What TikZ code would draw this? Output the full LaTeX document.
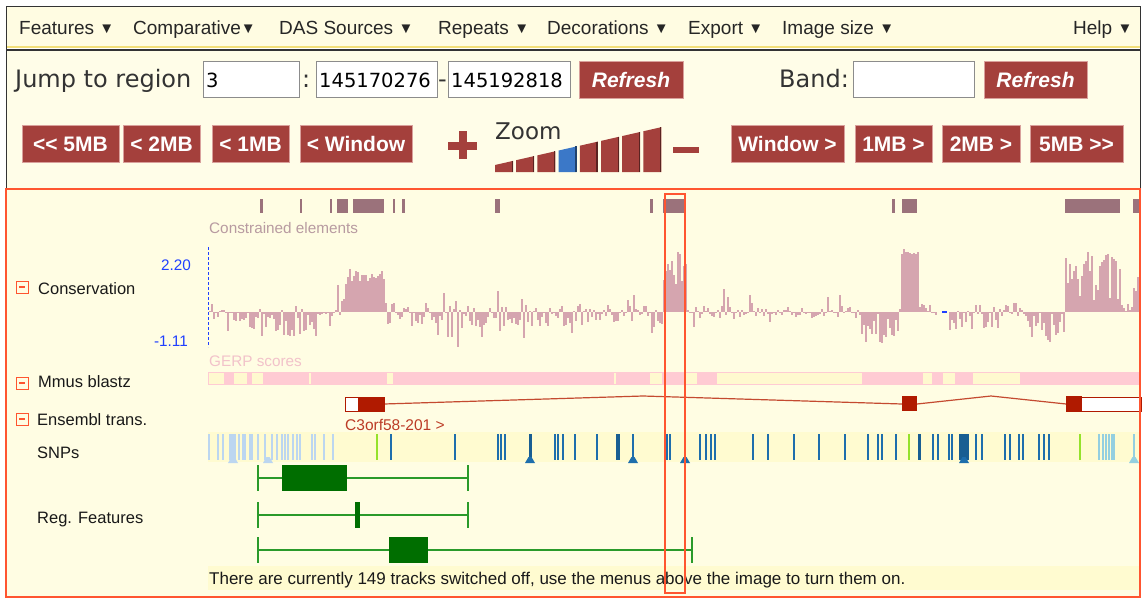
\documentclass[tikz,border=0pt]{standalone}
\usepackage{fontspec}
\setmainfont{Liberation Sans}
\newfontfamily\djv{DejaVu Sans}
\usetikzlibrary{calc}
\newcommand\fsz[1]{\fontsize{#1}{#1}\selectfont}
\newcommand\dn{\raisebox{1.5pt}{\fsz{15}▼}}
\definecolor{menubg}{HTML}{FFFCE2}
\definecolor{menuln}{HTML}{F3DF78}
\definecolor{ctrlbg}{HTML}{FFFDE8}
\definecolor{trackbg}{HTML}{FFFDE3}
\definecolor{bandbg}{HTML}{FFFBD0}
\definecolor{btnred}{HTML}{A4403C}
\definecolor{btnhi}{HTML}{D9A09C}
\definecolor{frame}{HTML}{FF5530}
\definecolor{conel}{HTML}{9B727B}
\definecolor{conbar}{HTML}{D5A5AF}
\definecolor{conlab}{HTML}{B89BA1}
\definecolor{gerp}{HTML}{F2C2CA}
\definecolor{blastz}{HTML}{FFCBD3}
\definecolor{gap}{HTML}{FFF9CF}
\definecolor{trans}{HTML}{B01A00}
\definecolor{transln}{HTML}{C44A30}
\definecolor{snplt}{HTML}{BCD6F0}
\definecolor{snpdk}{HTML}{1E6EAC}
\definecolor{snpgr}{HTML}{95E22A}
\definecolor{snptl}{HTML}{94CFE0}
\definecolor{regbox}{HTML}{006E00}
\definecolor{regln}{HTML}{2A9A2A}
\definecolor{zblue}{HTML}{3B78C8}
\definecolor{axis}{HTML}{2040FF}
\tikzset{
  txt/.style={anchor=base west,inner sep=0pt},
  menu/.style={txt,text=black!85,font=\fsz{19}},
  btn/.style={fill=btnred,draw=btnhi,line width=1pt,text=white,inner sep=0pt,minimum height=37pt,font=\fsz{21}\bfseries},
  rbtn/.style={btn,font=\fsz{21}\bfseries\itshape},
  inbox/.style={fill=white,draw=black!45,line width=1pt},
  big/.style={txt,text=black!80,font=\djv\fsz{24}},
  num/.style={txt,font=\djv\fsz{19.5}},
  lab/.style={txt,text=black!90,font=\fsz{16.5}},
  small/.style={txt,font=\fsz{15.3}},
  mbox/.style={draw=frame,line width=1pt},
  snp/.style={line width=1.3pt},
}

\begin{document}
\begin{tikzpicture}[x=1pt,y=-1pt]
\useasboundingbox (0,0) rectangle (1143,602);
\fill[white] (0,0) rectangle (1143,602);
% menu bar and control panel
\fill[menubg] (6,7) rectangle (1140,48); \draw[menuln,line width=2pt] (6,47)--(1140,47);
\fill[ctrlbg] (6,50) rectangle (1140,189);
\draw[black!80,line width=1.5pt] (6,50)--(1140,50);
\draw[black!80,line width=1pt] (6,189)--(6,7)--(1140,7)--(1140,189);
\node[menu] (mfeat) at (19,35) {Features \dn}; \node[menu] (mcomp) at (133,35) {Comparative\dn};
\node[menu] (mdas) at (279,35) {DAS Sources \dn}; \node[menu] (mrep) at (438,35) {Repeats \dn};
\node[menu] (mdec) at (547,35) {Decorations \dn}; \node[menu] (mexp) at (688,35) {Export \dn};
\node[menu] (mimg) at (782,35) {Image size \dn}; \node[menu] (mhelp) at (1073,35) {Help \dn};
\node[big] (jump) at (15,88) {Jump to region};
\draw[inbox] (203,62) rectangle (299,97); \node[num] (chr) at (206,87) {3};
\node[big] (colon) at (302,88) {:};
\draw[inbox] (316,62) rectangle (437,97); \node[num] (start) at (319,87) {145170276};
\node[big] (dash) at (438,88) {-};
\draw[inbox] (448,62) rectangle (570,97); \node[num] (stop) at (451,87) {145192818};
\node[rbtn,minimum width=104pt] (ref1) at (631,80) {Refresh};
\node[big] (band) at (779,88) {Band:};
\draw[inbox] (853,62) rectangle (974,97);
\node[rbtn,minimum width=103pt] (ref2) at (1035.5,80) {Refresh};
\node[btn,minimum width=97pt] (l5) at (70.5,144) {<{}< 5MB}; \node[btn,minimum width=77pt] (l2) at (161.5,144) {< 2MB};
\node[btn,minimum width=77pt] (l1) at (250.5,144) {< 1MB}; \node[btn,minimum width=112pt] (lw) at (356,144) {< Window};
\node[btn,minimum width=113pt] (rw) at (787.5,144) {Window >}; \node[btn,minimum width=77pt] (r1) at (893.5,144) {1MB >};
\node[btn,minimum width=78pt] (r2) at (981,144) {2MB >}; \node[btn,minimum width=93pt] (r5) at (1076.5,144) {5MB >{}>};
% zoom scale
\fill[btnred] (448,141.5) rectangle (477,149.5); \fill[btnred] (458.5,131) rectangle (466.5,159);
\fill[btnred] (673,147) rectangle (699,153);
\node[big,font=\djv\fsz{23}] (zoom) at (495,139) {Zoom};
\foreach \i in {0,...,7}{
  \pgfmathsetmacro\xa{495+21.2*\i} \pgfmathsetmacro\xb{\xa+18}
  \pgfmathsetmacro\ya{165-0.2275*(\xa-495)} \pgfmathsetmacro\yb{165-0.2275*(\xb-495)}
  \ifnum\i=3 \def\zc{zblue}\else\def\zc{btnred}\fi
  \fill[\zc] (\xa,172)--(\xa,\ya)--(\xb,\yb)--(\xb,172)--cycle;
  \draw[black!45!\zc,line width=1.5pt] (\xb-0.75,\yb)--(\xb-0.75,172);
}
% track panel
\fill[trackbg] (6,189) rectangle (1140,597);
\foreach \a/\b in {260/263,300/302,330/332,337/348,353/384,393/395,402/405,495/500,650/653,663/685,892/895,902/917,1065/1120,1133/1140}
  \fill[conel] (\a,199) rectangle (\b,213);
\node[small,text=conlab] (cel) at (209,233.5) {Constrained elements};
\pgfmathsetseed{11}
\foreach \a/\b/\lo/\hi/\sp in {209/243/-10/6/20,245/331/-24/6/20,333/343/-4/14/20,345/351/20/45/0,353/383/30/42/0,
  385/429/-12/10/30,431/479/-25/6/25,481/500/-20/8/30,501/649/-14/8/20,651/661/-22/4/10,663/685/25/60/0,
  687/859/-6/6/20,861/899/-32/0/10,901/917/56/64/0,919/935/-4/8/15,949/999/-22/8/20,1001/1025/-4/10/10,
  1027/1063/-30/0/10,1065/1119/8/60/0,1121/1131/0/12/10,1133/1139/10/40/0}{
  \pgfmathtruncatemacro\c{\a+2}
  \foreach \x in {\a,\c,...,\b}{
    \pgfmathsetmacro\h{\lo+(\hi-\lo)*rnd+(rnd<0.12)*\sp*(2*rnd-0.8)}
    \fill[conbar] (\x,312) rectangle ++(2,-\h);
  }
}
\draw[axis,line width=1pt,dash pattern=on 3pt off 2pt] (208.5,247)--(208.5,347);
\draw[axis,line width=1.2pt] (942,312)--(947,312) (1139,312)--(1140,312);
\node[small,anchor=base east,text=axis] (cmax) at (191,270.5) {2.20};
\node[small,anchor=base east,text=axis] (cmin) at (188,346.5) {-1.11};
\node[small,text=gerp] (gerp) at (209,366.5) {GERP scores};
\fill[blastz] (208,372) rectangle (1140,385);
\foreach \a/\b in {209/224,234/247,252/263,309/311,387/393,614/616,650/662,686/697,717/862,923/932,943/955,973/1020}
  \fill[gap] (\a,373) rectangle (\b,384);
% transcript
\draw[transln,line width=1.2pt] (384,404)--(643,396)--(902,404) (917,404)--(991,396)--(1066,404);
\draw[trans,line width=1pt,fill=white] (345.5,397) rectangle (384,411);
\fill[trans] (358,397) rectangle (384,411); \fill[trans] (902,396) rectangle (917,411);
\draw[trans,line width=1pt,fill=white] (1066,397) rectangle (1141,411);
\fill[trans] (1066,396) rectangle (1082,411);
\node[small,text=trans!85!white,font=\fsz{15.5}] (tname) at (345,430) {C3orf58-201 >};
% SNPs
\fill[bandbg] (208,432) rectangle (1140,462);
\foreach \x in {209,218,223,230,232,233,235,239,243,245,250,252,258,265,272,277,282,285,288,293,297,300,312,315,324,333}
  \draw[snp,snplt] (\x,434)--(\x,460);
\foreach \x in {391,455,498,501,505,555,558,563,575,597,633,667,670,685,700,706,711,715,753,768,794,819,845,868,878,882,896,933,938,949,952,976,982,1005,1010,1019,1023,1039,1044,1049}
  \draw[snp,snpdk] (\x,434)--(\x,460);
\foreach \a/\b in {529/532,616/620,918/921,959/969}
  \fill[snpdk!85!black] (\a,434) rectangle (\b,460);
\foreach \x in {377,909,1080} \draw[snp,snpgr] (\x,434)--(\x,460);
\foreach \x in {1099,1103,1106,1109,1112,1114,1134} \draw[snp,snptl] (\x,434)--(\x,460);
\foreach \x/\c in {233/snplt,268/snplt,530/snpdk,633/snpdk,685/snpdk,964/snpdk,1134/snptl}
  \fill[\c] (\x-5,463)--(\x-1.5,457)--(\x+1.5,457)--(\x+5,463)--cycle;
% regulatory features
\foreach \y/\r/\a/\b in {478/468/282/347,515/468/355/360,550/692/389/428}{
  \draw[regln,line width=1.5pt] (258,\y-13)--(258,\y+13) (\r,\y-13)--(\r,\y+13) (258,\y)--(\r,\y);
  \fill[regbox] (\a,\y-13) rectangle (\b,\y+13);
}
\fill[bandbg] (208,566) rectangle (1140,590);
\node[small,text=black!90,font=\fsz{17}] (note) at (209,584) {There are currently 149 tracks switched off, use the menus above the image to turn them on.};
% track labels
\draw[mbox] (16,281) rectangle (28,293); \draw[frame,line width=1.2pt] (19,287)--(25,287);
\node[lab] (lcons) at (38,294) {Conservation};
\draw[mbox] (16,377) rectangle (28,389); \draw[frame,line width=1.2pt] (19,383)--(25,383);
\node[lab] (lmmus) at (38,387) {Mmus blastz};
\draw[mbox] (16,413) rectangle (28,425); \draw[frame,line width=1.2pt] (19,419)--(25,419);
\node[lab] (lens) at (37,425) {Ensembl trans.};
\node[lab] (lsnp) at (37,458) {SNPs};
\node[lab] (lreg) at (37,523) {Reg. Features};
% frame and highlight
\draw[frame,line width=1.5pt] (665,194) rectangle (685,593);
\draw[frame,line width=2pt] (6,189) rectangle (1140,597);
\end{tikzpicture}
\end{document}
